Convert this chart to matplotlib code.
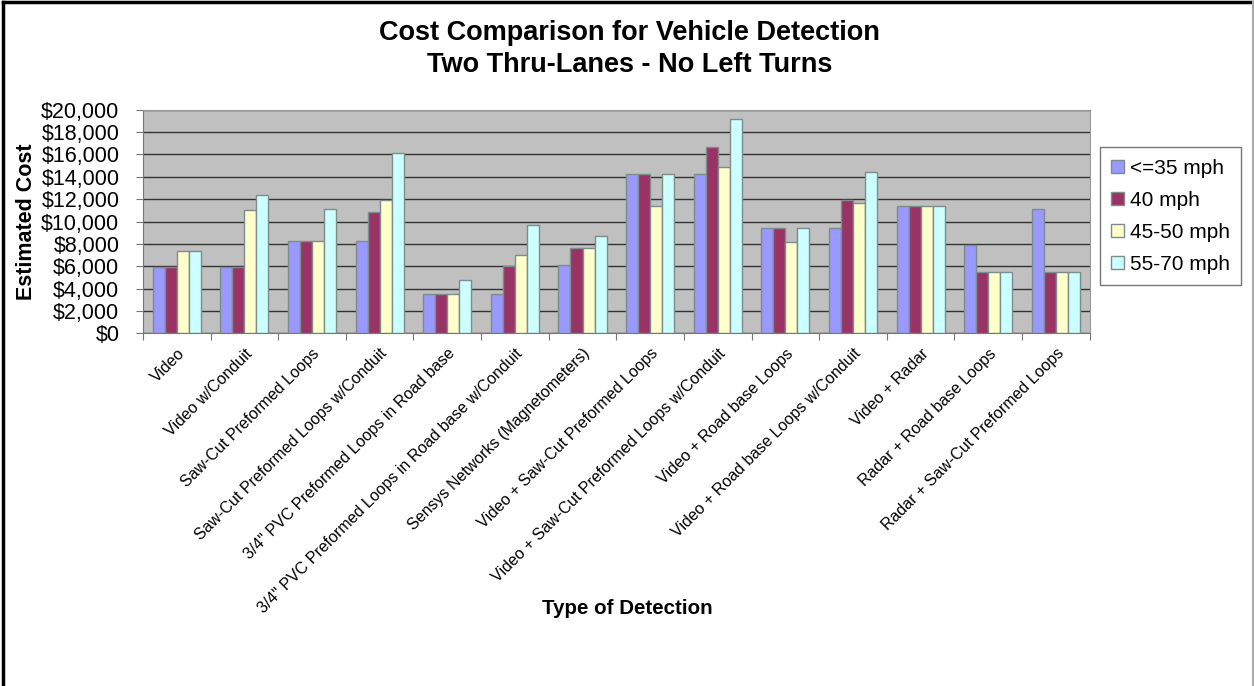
import numpy as np
import matplotlib.pyplot as plt
from matplotlib.ticker import FuncFormatter, MultipleLocator
from matplotlib.lines import Line2D

plt.rcParams['font.family'] = ['Liberation Sans', 'DejaVu Sans']

# Detection types along the x axis
categories = [
    'Video',
    'Video w/Conduit',
    'Saw-Cut Preformed Loops',
    'Saw-Cut Preformed Loops w/Conduit',
    '3/4" PVC Preformed Loops in Road base',
    '3/4" PVC Preformed Loops in Road base w/Conduit',
    'Sensys Networks (Magnetometers)',
    'Video + Saw-Cut Preformed Loops',
    'Video + Saw-Cut Preformed Loops w/Conduit',
    'Video + Road base Loops',
    'Video + Road base Loops w/Conduit',
    'Video + Radar',
    'Radar + Road base Loops',
    'Radar + Saw-Cut Preformed Loops',
]

series_names = ['<=35 mph', '40 mph', '45-50 mph', '55-70 mph']

# estimated cost per speed range
le35 = [5900, 5900, 8300, 8300, 3550, 3550, 6150, 14250, 14250, 9450, 9450, 11400, 7950, 11100]
mph40 = [5900, 5900, 8300, 10850, 3550, 6050, 7650, 14250, 16700, 9450, 11950, 11400, 5500, 5500]
mph45_50 = [7400, 11000, 8300, 11900, 3550, 7050, 7600, 11400, 14900, 8200, 11700, 11400, 5500, 5500]
mph55_70 = [7400, 12400, 11100, 16150, 4750, 9700, 8750, 14250, 19200, 9450, 14450, 11400, 5500, 5500]

colors = ['#9999FF', '#993366', '#FFFFCC', '#CCFFFF']

fig = plt.figure(figsize=(12.54, 6.86), dpi=100)
ax = fig.add_axes([0.114, 0.514, 0.755, 0.326])

x = np.arange(len(categories))
w = 0.178
all_series = [le35, mph40, mph45_50, mph55_70]
for i, (vals, c) in enumerate(zip(all_series, colors)):
    ax.bar(x + (i - 1.5) * w, vals, width=w, color=c, edgecolor='#7f8c8c',
           linewidth=1.0, label=series_names[i], zorder=3)

ax.set_facecolor('#C0C0C0')
ax.set_xlim(-0.5, len(categories) - 0.5)
ax.set_ylim(0, 20000)
ax.yaxis.set_major_locator(MultipleLocator(2000))
ax.yaxis.set_major_formatter(FuncFormatter(lambda v, p: '${:,.0f}'.format(v)))
ax.grid(axis='y', color='#333333', linewidth=1.0, zorder=1)

# category ticks between groups, labels at group centres
ax.set_xticks(np.arange(len(categories) + 1) - 0.5)
ax.set_xticklabels([])
ax.set_xticks(x, minor=True)
ax.set_xticklabels(categories, minor=True, rotation=45, ha='right',
                   rotation_mode='anchor', fontsize=11.5)
ax.tick_params(axis='x', which='minor', length=0, pad=9)
ax.tick_params(axis='x', which='major', length=5, color='#777777')
ax.tick_params(axis='y', length=5, color='#777777', labelsize=15.5, pad=12)

for side in ['top', 'right']:
    ax.spines[side].set_color('#999999')
for side in ['left', 'bottom']:
    ax.spines[side].set_color('#777777')

ax.set_ylabel('Estimated Cost', fontsize=15.5, fontweight='bold')
ax.yaxis.set_label_coords(-0.112, 0.5)

fig.text(0.5, 0.113, 'Type of Detection', ha='center', va='center',
         fontsize=14.8, fontweight='bold')
fig.text(0.502, 0.952, 'Cost Comparison for Vehicle Detection', ha='center',
         va='center', fontsize=19.5, fontweight='bold')
fig.text(0.502, 0.905, 'Two Thru-Lanes - No Left Turns', ha='center',
         va='center', fontsize=19.5, fontweight='bold')

leg = fig.legend(loc='upper left', bbox_to_anchor=(0.877, 0.785), fontsize=15,
                 frameon=True, fancybox=False, edgecolor='#555555',
                 handlelength=0.6, handleheight=0.6, handletextpad=0.3,
                 labelspacing=0.62, borderpad=0.55, borderaxespad=0)
leg.get_frame().set_linewidth(1.0)

# outer frame of the picture
fig.add_artist(Line2D([0.002, 0.002], [0, 0.997], color='black', lw=2.5))
fig.add_artist(Line2D([0.002, 0.999], [0.997, 0.997], color='black', lw=2.5))
fig.add_artist(Line2D([0.999, 0.999], [0, 0.997], color='#aaaaaa', lw=1.5))

fig.savefig('out.png', dpi=100)
